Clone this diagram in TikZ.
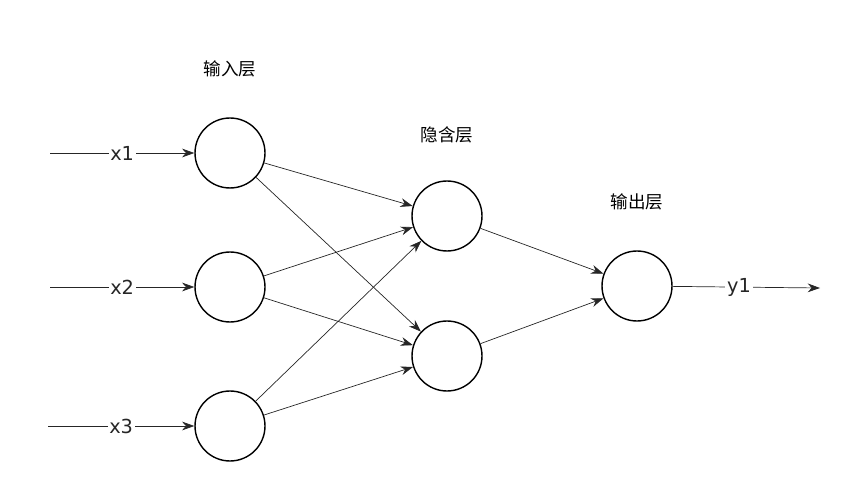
\documentclass[tikz,border=0pt]{standalone}
\usepackage{fontspec}
\setmainfont{DejaVu Sans}
\newfontfamily\cjk{Noto Sans CJK SC}
\usetikzlibrary{arrows.meta,positioning}

\begin{document}
\begin{tikzpicture}[x=0.02cm,y=-0.02cm,
  neuron/.style={circle,draw,thick,minimum size=1.4cm,inner sep=0pt},
  link/.style={draw,-{Stealth[length=7pt,width=5pt]},color=black!85},
  lab/.style={fill=white,inner sep=1pt,font=\fontsize{11}{11}\selectfont},
  layer/.style={font=\cjk\fontsize{10}{10}\selectfont}]
\useasboundingbox (0,0) rectangle (849,493);

% layer titles
\node[layer, name=t_in] at (230,69) {输入层};
\node[layer, name=t_hid] at (447,135) {隐含层};
\node[layer, name=t_out] at (637,202) {输出层};

% neurons
\node[neuron, name=in1] at (230,153) {};
\node[neuron, name=in2] at (230,287) {};
\node[neuron, name=in3] at (230,426) {};
\node[neuron, name=hid1] at (447,216) {};
\node[neuron, name=hid2] at (447,356) {};
\node[neuron, name=out1] at (637,286) {};

% free ends
\coordinate (s1) at (50,153);
\coordinate (s2) at (50,287);
\coordinate (s3) at (48,426);
\coordinate (e1) at (820,288);

% inputs and output
\draw[link] (s1) -- node[lab]{x1} (in1);
\draw[link] (s2) -- node[lab]{x2} (in2);
\draw[link] (s3) -- node[lab]{x3} (in3);
\draw[link] (out1) -- node[lab,pos=0.45]{y1} (e1);

% weights
\foreach \i in {in1,in2,in3}
  \foreach \h in {hid1,hid2}
    \draw[link] (\i) -- (\h);
\draw[link] (hid1) -- (out1);
\draw[link] (hid2) -- (out1);
\end{tikzpicture}
\end{document}
